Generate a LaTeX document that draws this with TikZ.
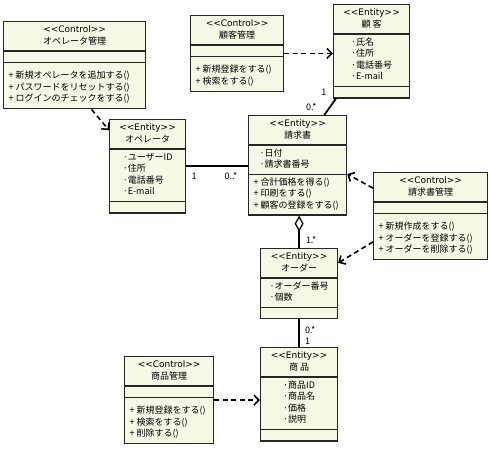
\documentclass[tikz,border=0pt]{standalone}
\usepackage{fontspec}
\setmainfont{Noto Sans CJK JP}[Ligatures=TeXOff]
\newfontfamily\stfont{DejaVu Sans}[Ligatures=TeXOff]
\usepackage{tikz}
\usetikzlibrary{shapes.multipart,arrows.meta,calc}
\definecolor{boxfill}{HTML}{F4FAE6}
\renewcommand{\arraystretch}{1.1}
\newcommand{\umltitle}[2]{\begin{tabular}{@{}c@{}}{\stfont <<#1>>}\\#2\end{tabular}}
\newcommand{\umlrows}[1]{\begin{tabular}{@{}l@{}}#1\end{tabular}}
\newcommand{\umlops}[1]{\begin{tabular}{@{}l@{}}\rule{0pt}{13pt}#1\rule[-4pt]{0pt}{4pt}\end{tabular}}

\begin{document}
\begin{tikzpicture}[
    x=1pt, y=1pt,
    font=\fontsize{9}{10.5}\selectfont,
    umlclass/.style={rectangle split, rectangle split parts=3, draw=black!85, line width=1.2pt, fill=boxfill, inner xsep=5pt, inner ysep=2.5pt, anchor=north west},
    control/.style={umlclass, rectangle split part align={center,center,left}, rectangle split empty part height=0pt},
    entity/.style={umlclass, rectangle split part align={center,center,center}, rectangle split empty part height=5pt},
    dep/.style={dash pattern=on 5pt off 3.5pt, line width=1.6pt, -{Straight Barb[length=5pt,width=10pt]}},
    assoc/.style={line width=1.8pt},
    aggr/.style={assoc, {Diamond[open,length=16pt,width=9pt,line width=1.3pt]}-},
    mult/.style={inner sep=1pt}
]
    \useasboundingbox (0,0) rectangle (490,-450);

    % Controls
    \node[control, minimum width=142pt] (opctl) at (3,-21) {\umltitle{Control}{オペレータ管理}\nodepart{two}\nodepart{three}\umlops{+ 新規オペレータを追加する()\\+ パスワードをリセットする()\\+ ログインのチェックをする()}};
    \node[control, minimum width=93pt] (custctl) at (190,-15) {\umltitle{Control}{顧客管理}\nodepart{two}\nodepart{three}\umlops{+ 新規登録をする()\\+ 検索をする()}};
    \node[control, minimum width=114pt] (invctl) at (373,-172) {\umltitle{Control}{請求書管理}\nodepart{two}\nodepart{three}\umlops{+ 新規作成をする()\\+ オーダーを登録する()\\+ オーダーを削除する()}};
    \node[control, minimum width=89pt] (prodctl) at (124,-356) {\umltitle{Control}{商品管理}\nodepart{two}\nodepart{three}\umlops{+ 新規登録をする()\\+ 検索をする()\\+ 削除する()}};

    % Entities
    \node[entity, minimum width=76pt] (cust) at (333,-4) {\umltitle{Entity}{顧 客}\nodepart{two}\umlrows{·氏名\\·住所\\·電話番号\\·E-mail}\nodepart{three}};
    \node[entity, minimum width=76pt] (op) at (109,-119) {\umltitle{Entity}{オペレータ}\nodepart{two}\umlrows{·ユーザーID\\·住所\\·電話番号\\·E-mail}\nodepart{three}};
    \node[entity, minimum width=98pt, rectangle split part align={center,left,left}] (inv) at (248,-115) {\umltitle{Entity}{請求書}\nodepart{two}\hspace*{6pt}\umlrows{·日付\\·請求書番号}\nodepart{three}\umlrows{+ 合計価格を得る()\\+ 印刷をする()\\+ 顧客の登録をする()}};
    \node[entity, minimum width=77pt] (order) at (260,-248) {\umltitle{Entity}{オーダー}\nodepart{two}\umlrows{·オーダー番号\\·個数}\nodepart{three}};
    \node[entity, minimum width=77pt] (prod) at (260,-347) {\umltitle{Entity}{商 品}\nodepart{two}\umlrows{·商品ID\\·商品名\\·価格\\·説明}\nodepart{three}};

    % Associations
    \draw[assoc] (op.east) -- (op.east -| inv.west)
        node[mult, pos=0, xshift=8pt, yshift=-10pt] {1}
        node[mult, pos=1, xshift=-17pt, yshift=-10pt] {0..*};
    \draw[assoc] (cust.233) -- (inv.62)
        node[mult, pos=0, xshift=-12pt, yshift=6pt] {1}
        node[mult, pos=1, xshift=-13pt, yshift=8pt] {0.*};
    \draw[aggr] (inv.south -| order.north) -- (order.north)
        node[mult, pos=0.76, right=5pt] {1.*};
    \draw[assoc] (order.south) -- (prod.north)
        node[mult, pos=0.39, right=4pt] {0.*}
        node[mult, pos=0.79, right=4pt] {1};

    % Dependencies
    \draw[dep] (opctl.291) -- (op.137);
    \draw[dep] (custctl.east) -- (custctl.east -| cust.west);
    \draw[dep] (invctl.154) -- (inv.350);
    \draw[dep] (invctl.204) -- (order.28);
    \draw[dep] (prodctl.east) -- (prodctl.east -| prod.west);
\end{tikzpicture}
\end{document}
